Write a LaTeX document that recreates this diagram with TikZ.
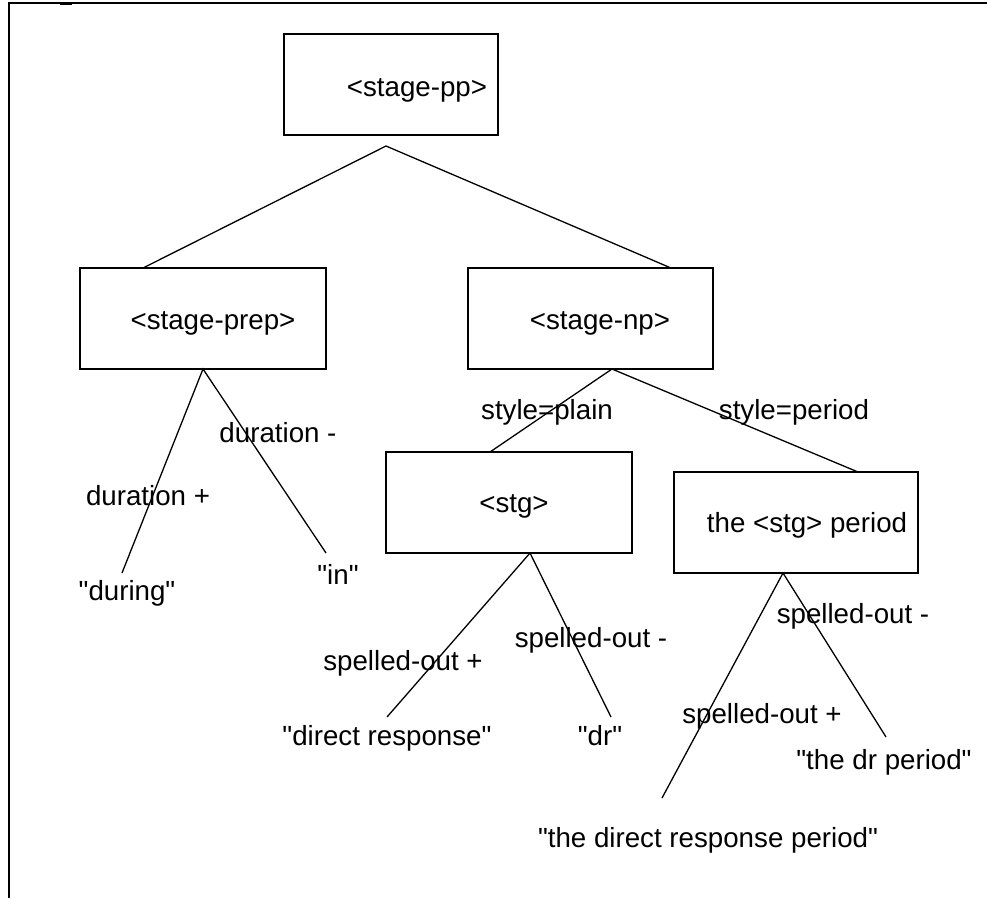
\documentclass[tikz,border=0pt]{standalone}
\usepackage{fontspec}
\setmainfont{Liberation Sans}[Ligatures=TeXOff]
\begin{document}
\begin{tikzpicture}[x=1pt,y=-1pt,
  txt/.style={font=\fontsize{27.7}{33}\selectfont, inner sep=0pt, text height=20pt, text depth=6pt},
  box/.style={draw, line width=1.4pt, rectangle, inner sep=0pt, minimum height=101pt},
  edge/.style={line width=1.3pt}]
\useasboundingbox (0,0) rectangle (987,898);

% outer frame (open at right and bottom)
\draw[line width=1.6pt] (987,3) -- (9,3) -- (9,898);
\draw[line width=2.6pt] (60,3.5) -- (72,3.5);

% boxes
\node[box, minimum width=214pt] (pp)   at (391,84.5)  {};
\node[box, minimum width=246pt] (prep) at (203,318.5) {};
\node[box, minimum width=245pt] (np)   at (590.5,318.5) {};
\node[box, minimum width=246pt] (stg)  at (509,502.5) {};
\node[box, minimum width=244pt] (per)  at (796,522.5) {};

% box texts
\node[txt] (tpp)   at (417,89)  {<stage-pp>};
\node[txt] (tprep) at (213,322) {<stage-prep>};
\node[txt] (tnp)   at (600,322) {<stage-np>};
\node[txt] (tstg)  at (514,505) {<stg>};
\node[txt] (tper)  at (807,525) {the <stg> period};

% leaf texts
\node[txt] (during) at (127,593) {"during"};
\node[txt] (in)     at (338,577) {"in"};
\node[txt] (dresp)  at (387,738) {"direct response"};
\node[txt] (dr)     at (600,738) {"dr"};
\node[txt] (thedr)  at (884,762) {"the dr period"};
\node[txt] (thedresp) at (708,840) {"the direct response period"};

% edge labels
\node[txt] (ldurm) at (278,435) {duration -};
\node[txt] (ldurp) at (148,498) {duration +};
\node[txt] (lplain) at (547,412) {style=plain};
\node[txt] (lperiod) at (794,412) {style=period};
\node[txt] (lspp1) at (403,663) {spelled-out +};
\node[txt] (lspm1) at (591,640) {spelled-out -};
\node[txt] (lspm2) at (853,616) {spelled-out -};
\node[txt] (lspp2) at (762,716) {spelled-out +};

% branch points and line ends
\coordinate (ppfork) at (386,146);
\coordinate (prepfork) at (203,369);
\coordinate (npfork) at (612,369);
\coordinate (stgfork) at (530,553);
\coordinate (perfork) at (783,573);

\coordinate (prepin) at (143,268);
\coordinate (npin) at (671,268);
\coordinate (stgin) at (490,452);
\coordinate (perin) at (858,472);

\coordinate (duringend) at (122,573);
\coordinate (inend) at (326,553);
\coordinate (drespend) at (387,717);
\coordinate (drend) at (611,717);
\coordinate (thedrespend) at (662,798);
\coordinate (thedrend) at (886,737);

% tree edges
\draw[edge] (prepin) -- (ppfork) -- (npin);
\draw[edge] (duringend) -- (prepfork) -- (inend);
\draw[edge] (stgin) -- (npfork) -- (perin);
\draw[edge] (drespend) -- (stgfork) -- (drend);
\draw[edge] (thedrespend) -- (perfork) -- (thedrend);
\end{tikzpicture}
\end{document}
